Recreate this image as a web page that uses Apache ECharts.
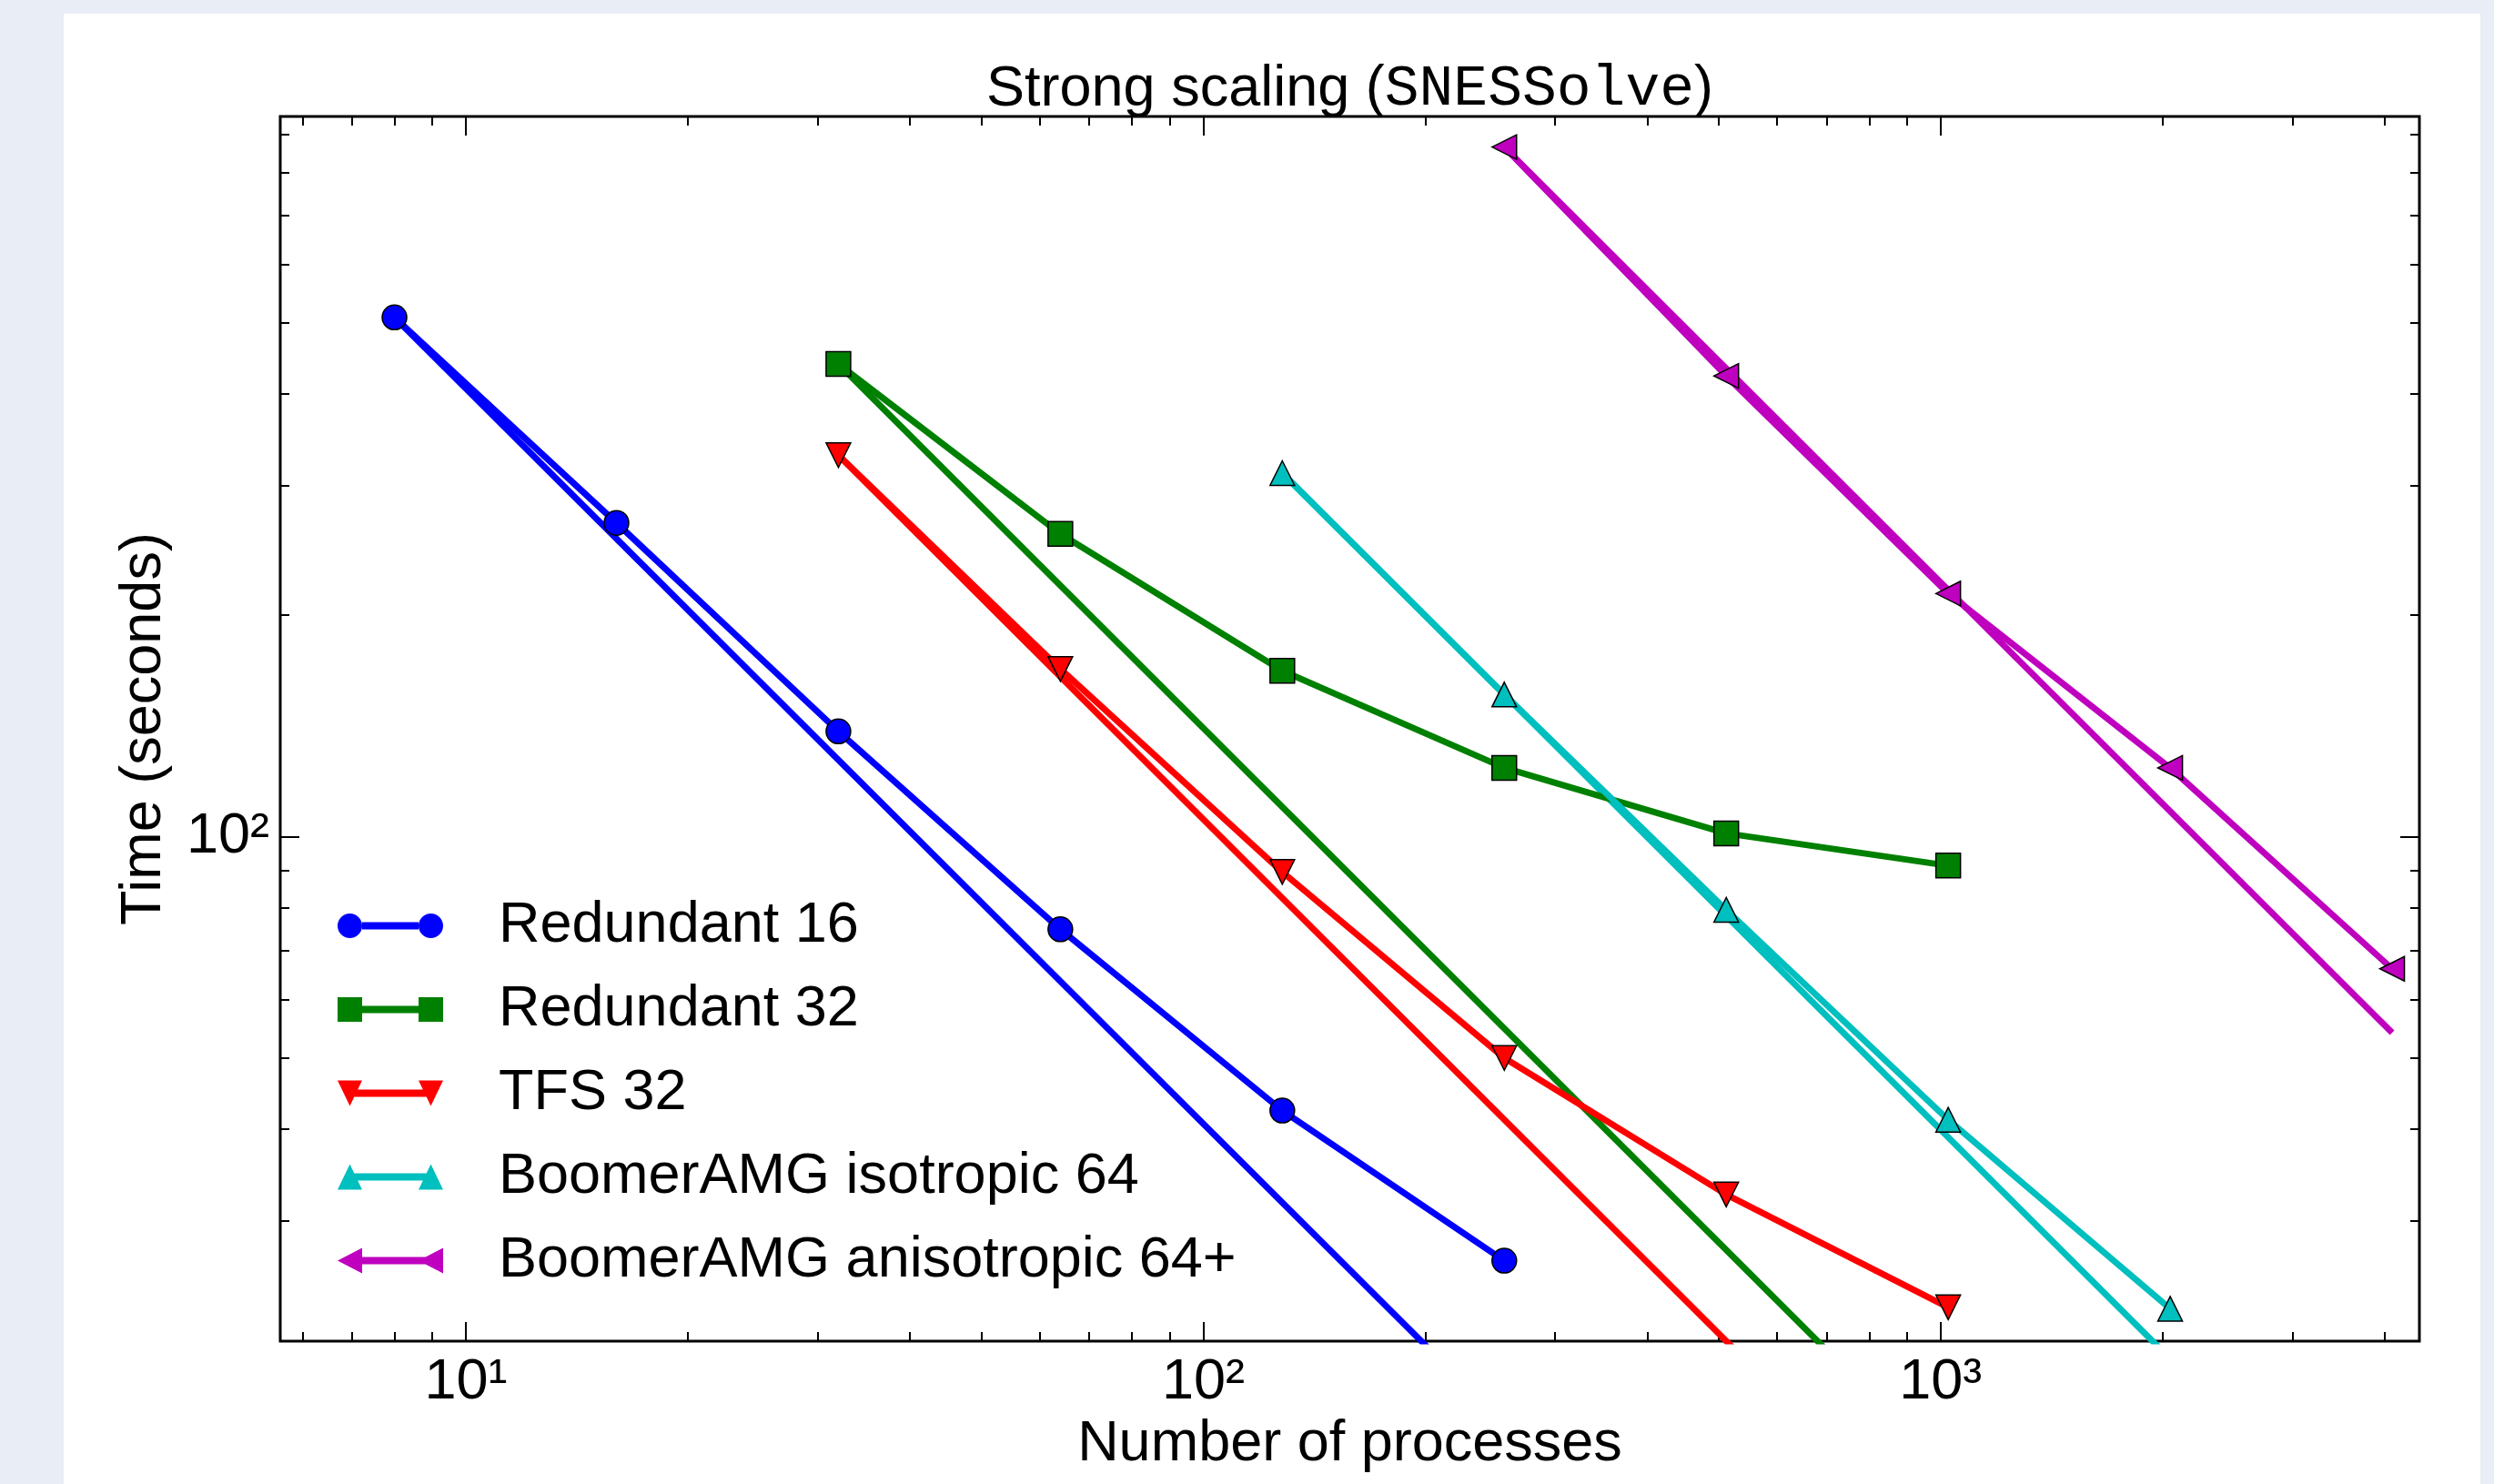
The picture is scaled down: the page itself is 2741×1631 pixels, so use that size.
<!DOCTYPE html>
<html>
<head>
<meta charset="utf-8">
<title>Strong scaling (SNESSolve)</title>
<script src="https://cdn.jsdelivr.net/npm/echarts@6.0.0/dist/echarts.min.js"></script>
<style>
  html, body { margin: 0; padding: 0; background: #e9edf5; }
  #strongScaling {
    position: absolute;
    left: 70px;
    top: 15px;
    width: 2656px;
    height: 1616px;
    background: #fff;
  }
</style>
</head>
<body>
<div id="strongScaling"></div>
<script>
// data (time in seconds vs number of processes)
const procs16 = [8, 16, 32, 64, 128, 256];
const redundant16 = [508, 267, 139, 74.8, 42.4, 26.5];
const procs32 = [32, 64, 128, 256, 512, 1024];
const redundant32 = [439, 258, 168, 124, 101, 91.3];
const tfs32 = [330, 169, 89.5, 50, 32.6, 22.9];
const procsIso = [128, 256, 512, 1024, 2048];
const boomerIso = [312, 156, 79.5, 41.2, 22.8];
const procsAniso = [256, 512, 1024, 2048, 4096];
const boomerAniso = [866, 423, 214, 124, 66.1];

// ideal scaling lines (start at first point, leave the plot)
const idealR16 = [[8, 508], [256, 15.9]];
const idealR32 = [[32, 439], [1024, 13.7]];
const idealTFS = [[32, 330], [1024, 10.3]];
const idealIso = [[128, 312], [2048, 19.5]];
const idealAniso = [[256, 866], [4096, 54.1]];

const names = ['Redundant 16', 'Redundant 32', 'TFS 32', 'BoomerAMG isotropic 64', 'BoomerAMG anisotropic 64+'];
const colors = ['#0000ff', '#008000', '#ff0000', '#00bfbf', '#bf00bf'];

// ticks
const xMajor = [10, 100, 1000];
const xMinor = [6, 7, 8, 9, 20, 30, 40, 50, 60, 70, 80, 90, 200, 300, 400, 500, 600, 700, 800, 900, 2000, 3000, 4000];
const yMajor = [100];
const yMinor = [30, 40, 50, 60, 70, 80, 90, 200, 300, 400, 500, 600, 700, 800, 900];
const xRange = [5.6, 4460];
const yRange = [20.6, 953];
const supDigits = { 1: '\u00b9', 2: '\u00b2', 3: '\u00b3' };

const FONT = '"Liberation Sans", Arial, Helvetica, sans-serif';

// legend icons: marker - line - marker, like the original
const legendIcons = [
  'path://M0 14A13.5 13.5 0 1 0 27 14A13.5 13.5 0 1 0 0 14ZM27 10L89 10L89 18L27 18ZM89 14A13.5 13.5 0 1 0 116 14A13.5 13.5 0 1 0 89 14Z',
  'path://M0 0.5L27 0.5L27 27.5L0 27.5ZM27 10L89 10L89 18L27 18ZM89 0.5L116 0.5L116 27.5L89 27.5Z',
  'path://M0 0L27 0L13.5 28ZM13.5 10L102.5 10L102.5 18L13.5 18ZM89 0L116 0L102.5 28Z',
  'path://M0 28L13.5 0L27 28ZM13.5 10L102.5 10L102.5 18L13.5 18ZM89 28L102.5 0L116 28Z',
  'path://M0 14L27 0L27 28ZM13.5 10L102.5 10L102.5 18L13.5 18ZM89 14L116 0L116 28Z'
];

function pairs(xs, ys) {
  return xs.map((x, i) => [x, ys[i]]);
}

function supLabel(v) {
  return '10' + supDigits[Math.round(Math.log10(v))];
}

function makeAxis(dim, position, ticks, len, withLabels) {
  const range = dim === 'x' ? xRange : yRange;
  const axis = {
    type: 'log',
    logBase: 10,
    position: position,
    min: range[0],
    max: range[1],
    axisLine: { show: false },
    splitLine: { show: false },
    axisTick: {
      show: true,
      inside: true,
      length: len,
      customValues: ticks,
      lineStyle: { color: '#000', width: 2 }
    },
    axisLabel: { show: false }
  };
  if (withLabels) {
    axis.axisLabel = {
      show: true,
      customValues: ticks,
      margin: dim === 'x' ? 14 : 12,
      color: '#000',
      fontFamily: FONT,
      fontSize: 63,
      formatter: supLabel
    };
  }
  return axis;
}

const myChart = echarts.init(document.getElementById('strongScaling'));

const dataSets = [
  pairs(procs16, redundant16),
  pairs(procs32, redundant32),
  pairs(procs32, tfs32),
  pairs(procsIso, boomerIso),
  pairs(procsAniso, boomerAniso)
];
const ideals = [idealR16, idealR32, idealTFS, idealIso, idealAniso];
const symbols = ['circle', 'rect', 'triangle', 'triangle', 'triangle'];
const rotations = [0, 0, 180, 0, 90];

const series = [];
ideals.forEach((d, i) => {
  series.push({
    name: names[i] + ' ideal',
    type: 'line',
    data: d,
    symbol: 'none',
    silent: true,
    lineStyle: { color: colors[i], width: 7 },
    z: 2
  });
});
dataSets.forEach((d, i) => {
  series.push({
    name: names[i],
    type: 'line',
    data: d,
    symbol: symbols[i],
    symbolSize: 27,
    symbolRotate: rotations[i],
    showAllSymbol: true,
    lineStyle: { color: colors[i], width: 7 },
    itemStyle: { color: colors[i], borderColor: '#000', borderWidth: 1.5 },
    z: 3
  });
});

const option = {
  animation: false,
  backgroundColor: 'transparent',
  title: {
    text: 'Strong scaling ({m|SNESSolve})',
    left: 1413.5,
    top: 52,
    padding: 0,
    textAlign: 'center',
    textStyle: {
      fontFamily: FONT,
      fontSize: 63,
      fontWeight: 'normal',
      color: '#000',
      rich: {
        m: { fontFamily: '"Liberation Mono", "Courier New", monospace', fontSize: 63, color: '#000' }
      }
    }
  },
  legend: {
    orient: 'vertical',
    left: 301,
    top: 971,
    padding: 0,
    itemWidth: 116,
    itemHeight: 28,
    itemGap: 29,
    data: names.map((n, i) => ({ name: n, icon: legendIcons[i] })),
    itemStyle: { borderWidth: 0 },
    textStyle: {
      fontFamily: FONT,
      fontSize: 63,
      lineHeight: 63,
      color: '#000',
      padding: [0, 0, 0, 56]
    }
  },
  grid: {
    left: 238,
    top: 113,
    right: 67,
    bottom: 157,
    show: true,
    borderColor: '#000',
    borderWidth: 3,
    backgroundColor: 'transparent',
    outerBoundsMode: 'none'
  },
  xAxis: [
    Object.assign(makeAxis('x', 'bottom', xMajor, 21, true), {
      name: 'Number of processes',
      nameLocation: 'middle',
      nameGap: 63,
      nameTextStyle: { fontFamily: FONT, fontSize: 63, color: '#000' }
    }),
    makeAxis('x', 'bottom', xMinor, 10, false),
    makeAxis('x', 'top', xMajor, 21, false),
    makeAxis('x', 'top', xMinor, 10, false)
  ],
  yAxis: [
    Object.assign(makeAxis('y', 'left', yMajor, 21, true), {
      name: 'Time (seconds)',
      nameLocation: 'middle',
      nameGap: 118,
      nameTextStyle: { fontFamily: FONT, fontSize: 63, color: '#000' }
    }),
    makeAxis('y', 'left', yMinor, 10, false),
    makeAxis('y', 'right', yMajor, 21, false),
    makeAxis('y', 'right', yMinor, 10, false)
  ],
  series: series
};

myChart.setOption(option);

window.addEventListener('resize', () => {
  myChart.resize();
});
</script>
</body>
</html>
